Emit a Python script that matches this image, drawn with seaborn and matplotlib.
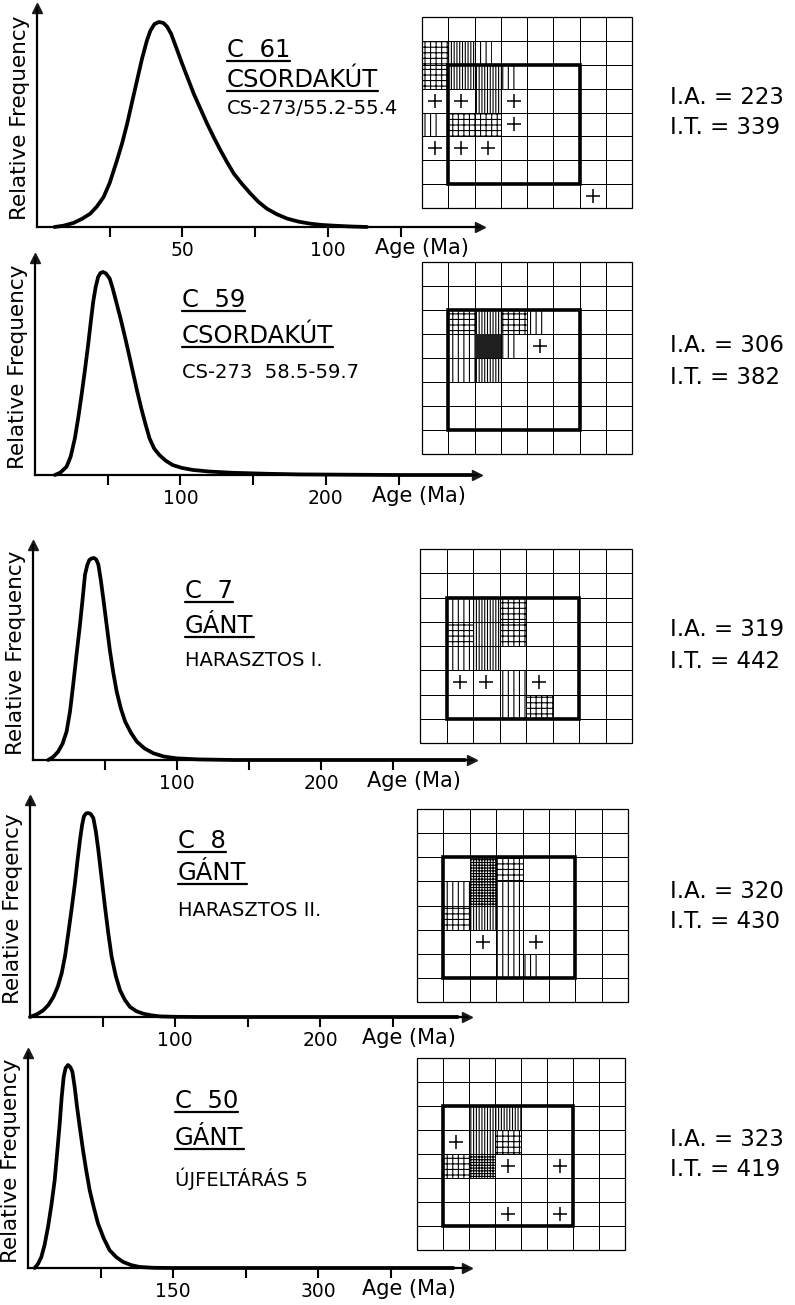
import numpy as np
import matplotlib.pyplot as plt
import seaborn as sns
from matplotlib.colors import ListedColormap
from matplotlib.patches import Rectangle

sns.set_theme(style='white')
plt.rcParams['font.family'] = ['DejaVu Sans']
plt.rcParams['hatch.linewidth'] = 0.8

W, H = 795, 1305

# --- age spectra (age in Ma, relative frequency, peak = 1) ---
age_c61 = [6.0, 9.0, 12.6, 15.5, 18.3, 20.6, 22.9, 25.0, 27.5, 29.3, 31.0, 32.7, 34.4, 36.1,
           37.8, 39.0, 40.4, 41.9, 43.4, 44.7, 46.1, 47.5, 49.9, 52.0, 53.9, 56.2, 58.5, 60.8,
           63.1, 65.4, 67.7, 70.5, 73.4, 76.2, 79.1, 82.5, 86.0, 90.0, 94.1, 98.0, 102.1, 107.0,
           113.5]
freq_c61 = [0.0, 0.006, 0.02, 0.04, 0.065, 0.10, 0.146, 0.215, 0.325, 0.41, 0.504, 0.61, 0.715,
            0.82, 0.91, 0.958, 0.99, 1.0, 0.996, 0.978, 0.943, 0.89, 0.797, 0.72, 0.65, 0.577,
            0.504, 0.437, 0.374, 0.315, 0.26, 0.21, 0.163, 0.122, 0.089, 0.062, 0.041, 0.026,
            0.016, 0.010, 0.0065, 0.003, 0.0]

age_c59 = [13.7, 17.5, 21.7, 24.5, 27.4, 29.7, 32.0, 34.3, 36.5, 38.3, 40.0, 41.7, 43.4, 45.0,
           46.8, 48.8, 51.4, 53.6, 55.9, 58.8, 61.6, 64.5, 67.3, 70.2, 73.1, 76.0, 78.8, 82.0,
           85.6, 90.0, 94.7, 101.0, 108.4, 120.0, 135.8, 160.0, 181.5, 250.0, 300.0]
freq_c59 = [0.0, 0.012, 0.041, 0.09, 0.18, 0.28, 0.393, 0.515, 0.639, 0.75, 0.852, 0.925, 0.975,
            0.995, 1.0, 0.993, 0.967, 0.915, 0.852, 0.772, 0.689, 0.598, 0.508, 0.415, 0.328,
            0.25, 0.18, 0.13, 0.098, 0.07, 0.049, 0.035, 0.025, 0.017, 0.011, 0.006, 0.003,
            0.0, 0.0]

age_c7 = [10.5, 14.0, 17.4, 20.5, 23.3, 25.7, 27.9, 30.2, 32.6, 34.5, 36.1, 37.7, 39.1, 40.7,
          42.3, 43.9, 45.4, 47.1, 48.8, 51.2, 53.5, 55.8, 58.1, 61.0, 64.0, 68.0, 72.1, 77.5,
          83.7, 91.0, 100.0, 115.0, 139.5, 300.0]
freq_c7 = [0.0, 0.015, 0.041, 0.08, 0.14, 0.24, 0.372, 0.52, 0.669, 0.8, 0.917, 0.965, 0.99,
           0.998, 1.0, 0.993, 0.967, 0.89, 0.80, 0.665, 0.537, 0.43, 0.339, 0.255, 0.19, 0.135,
           0.091, 0.057, 0.033, 0.017, 0.008, 0.003, 0.0, 0.0]

age_c8 = [0.0, 1.1, 5.0, 9.2, 12.8, 16.1, 19.2, 21.8, 24.2, 26.4, 28.8, 31.0, 32.8, 34.5, 35.9,
          37.2, 38.7, 40.2, 41.9, 43.7, 45.4, 47.1, 49.4, 51.7, 54.0, 56.3, 59.2, 62.1, 65.5,
          69.0, 73.5, 78.2, 84.0, 89.7, 100.0, 117.0, 295.0]
freq_c8 = [0.0, 0.003, 0.014, 0.033, 0.06, 0.098, 0.15, 0.213, 0.3, 0.41, 0.535, 0.656, 0.77,
           0.869, 0.94, 0.984, 0.998, 1.0, 0.995, 0.975, 0.91, 0.82, 0.68, 0.541, 0.41, 0.295,
           0.2, 0.131, 0.083, 0.049, 0.028, 0.016, 0.008, 0.003, 0.001, 0.0, 0.0]

age_c50 = [6.9, 10.3, 13.8, 17.2, 20.7, 24.2, 27.6, 30.2, 32.8, 34.8, 36.9, 38.9, 41.4, 43.7,
           45.9, 48.3, 50.7, 53.8, 56.9, 60.3, 63.8, 68.1, 72.4, 78.4, 84.5, 91.4, 98.3, 106.9,
           115.5, 130.0, 150.0, 440.0]
freq_c50 = [0.0, 0.02, 0.054, 0.115, 0.202, 0.31, 0.433, 0.57, 0.712, 0.84, 0.942, 0.985, 1.0,
            0.99, 0.967, 0.89, 0.794, 0.685, 0.58, 0.478, 0.383, 0.297, 0.219, 0.145, 0.087,
            0.053, 0.03, 0.014, 0.005, 0.001, 0.0, 0.0]

# tick values per panel
major_ticks = [[50, 100], [100, 200], [100, 200], [100, 200], [150, 300]]
minor_ticks = [[25, 75, 125], [50, 150, 250], [50, 150, 250], [50, 150, 250], [75, 225, 375]]

# labels
sample_ids = ['C  61', 'C  59', 'C  7', 'C  8', 'C  50']
localities = ['CSORDAKÚT', 'CSORDAKÚT', 'GÁNT', 'GÁNT', 'GÁNT']
sites = ['CS-273/55.2-55.4', 'CS-273  58.5-59.7', 'HARASZTOS I.', 'HARASZTOS II.', 'ÚJFELTÁRÁS 5']
ylabels = ['Relative Frequency', 'Relative Frequency', 'Relative Frequency',
           'Relative Freqency', 'Relative Frequency']
ia_values = [223, 306, 319, 320, 323]
it_values = [339, 382, 442, 430, 419]

# grid cell codes: 0 empty, 1 plus, 2 sparse vertical, 3 dense vertical,
# 4 cross-hatch, 5 dense cross-hatch, 6 dark, 7 partial sparse vertical
grid_c61 = [[0, 0, 0, 0, 0, 0, 0, 0],
            [4, 3, 7, 0, 0, 0, 0, 0],
            [4, 3, 3, 7, 0, 0, 0, 0],
            [1, 1, 3, 1, 0, 0, 0, 0],
            [7, 4, 4, 1, 0, 0, 0, 0],
            [1, 1, 1, 0, 0, 0, 0, 0],
            [0, 0, 0, 0, 0, 0, 0, 0],
            [0, 0, 0, 0, 0, 0, 1, 0]]
grid_c59 = [[0, 0, 0, 0, 0, 0, 0, 0],
            [0, 0, 0, 0, 0, 0, 0, 0],
            [0, 4, 3, 4, 7, 0, 0, 0],
            [0, 2, 6, 7, 1, 0, 0, 0],
            [0, 2, 3, 0, 0, 0, 0, 0],
            [0, 0, 0, 0, 0, 0, 0, 0],
            [0, 0, 0, 0, 0, 0, 0, 0],
            [0, 0, 0, 0, 0, 0, 0, 0]]
grid_c7 = [[0, 0, 0, 0, 0, 0, 0, 0],
           [0, 0, 0, 0, 0, 0, 0, 0],
           [0, 2, 3, 4, 0, 0, 0, 0],
           [0, 4, 3, 4, 0, 0, 0, 0],
           [0, 2, 3, 0, 0, 0, 0, 0],
           [0, 1, 1, 2, 1, 0, 0, 0],
           [0, 0, 0, 2, 4, 0, 0, 0],
           [0, 0, 0, 0, 0, 0, 0, 0]]
grid_c8 = [[0, 0, 0, 0, 0, 0, 0, 0],
           [0, 0, 0, 0, 0, 0, 0, 0],
           [0, 0, 5, 4, 0, 0, 0, 0],
           [0, 2, 5, 2, 0, 0, 0, 0],
           [0, 4, 3, 2, 0, 0, 0, 0],
           [0, 0, 1, 2, 1, 0, 0, 0],
           [0, 0, 0, 2, 7, 0, 0, 0],
           [0, 0, 0, 0, 0, 0, 0, 0]]
grid_c50 = [[0, 0, 0, 0, 0, 0, 0, 0],
            [0, 0, 0, 0, 0, 0, 0, 0],
            [0, 0, 3, 3, 0, 0, 0, 0],
            [0, 1, 3, 4, 0, 0, 0, 0],
            [0, 4, 5, 1, 0, 1, 0, 0],
            [0, 0, 0, 0, 0, 0, 0, 0],
            [0, 0, 0, 1, 0, 1, 0, 0],
            [0, 0, 0, 0, 0, 0, 0, 0]]

curves = [(age_c61, freq_c61), (age_c59, freq_c59), (age_c7, freq_c7),
          (age_c8, freq_c8), (age_c50, freq_c50)]
grids = [grid_c61, grid_c59, grid_c7, grid_c8, grid_c50]

# layout in pixels: axis x, baseline y, arrow top y, arrow right x, px per Ma, peak y
curve_boxes = [(37, 227, 8, 480, 2.908, 22),
               (35, 475, 258, 477, 1.454, 272),
               (33, 760, 545, 472, 1.44, 558),
               (30, 1017, 800, 467, 1.45, 813),
               (28, 1268, 1053, 467, 0.967, 1065)]
grid_boxes = [(422, 17, 632, 208), (422, 262, 632, 454), (420, 549, 632, 743),
              (417, 809, 628, 1002), (417, 1058, 625, 1250)]
title_pos = [(227, 50, 80, 108), (182, 300, 336, 372), (185, 591, 626, 661),
             (178, 841, 873, 911), (175, 1101, 1138, 1179)]
ia_pos = [(97, 128), (345, 377), (630, 661), (891, 921), (1140, 1170)]

fig = plt.figure(figsize=(W / 100, H / 100), dpi=100)
ov = fig.add_axes([0, 0, 1, 1])
ov.set_xlim(0, W)
ov.set_ylim(H, 0)
ov.axis('off')


def px_axes(x0, y0, x1, y1):
    return fig.add_axes([x0 / W, 1 - y1 / H, (x1 - x0) / W, (y1 - y0) / H])


underlined = []
for i, (age, freq) in enumerate(curves):
    left, base, top, right, ppm, peak = curve_boxes[i]
    ax = px_axes(left, top, right, base)
    ax.patch.set_alpha(0)
    sns.lineplot(x=age, y=freq, ax=ax, color='black', lw=2.7, estimator=None, sort=False)
    ax.lines[-1].set_clip_on(False)
    ax.lines[-1].set_solid_joinstyle('round')
    ax.set_xlim(0, (right - left) / ppm)
    ax.set_ylim(0, (base - top) / (base - peak))
    ax.spines['top'].set_visible(False)
    ax.spines['right'].set_visible(False)
    for s in ['left', 'bottom']:
        ax.spines[s].set_linewidth(1.6)
        ax.spines[s].set_color('black')
    ax.set_yticks([])
    ax.set_xticks(major_ticks[i])
    ax.set_xticklabels([str(t) for t in major_ticks[i]])
    ax.set_xticks(minor_ticks[i], minor=True)
    ax.tick_params(axis='x', which='both', direction='out', length=7, width=1.5,
                   color='black', bottom=True, labelsize=13.5, pad=3, labelcolor='black')
    ax.set_xlabel('')
    ax.set_ylabel('')
    ax.plot(1, 0, '>k', ms=7, transform=ax.transAxes, clip_on=False)
    ax.plot(0, 1, '^k', ms=7, transform=ax.transAxes, clip_on=False)

    ov.text(left - 17, (base + top) / 2, ylabels[i], rotation=90, ha='center', va='center',
            fontsize=15.5, color='black')
    ov.text(right - 105, base + 21, 'Age (Ma)', ha='left', va='center', fontsize=15,
            color='black')

    tx, y1, y2, y3 = title_pos[i]
    t1 = ov.text(tx, y1, sample_ids[i], ha='left', va='center', fontsize=17.5, color='black')
    t2 = ov.text(tx, y2, localities[i], ha='left', va='center', fontsize=17.5, color='black')
    ov.text(tx, y3, sites[i], ha='left', va='center', fontsize=14, color='black')
    underlined += [t1, t2]

    ya, yt = ia_pos[i]
    ov.text(670, ya, f'I.A. = {ia_values[i]}', ha='left', va='center', fontsize=16.5,
            color='black')
    ov.text(670, yt, f'I.T. = {it_values[i]}', ha='left', va='center', fontsize=16.5,
            color='black')

white = ListedColormap(['white'])
hatches = {2: '|||', 3: '||||||', 4: '+++', 5: '++++++', 7: '|||'}
for i, codes in enumerate(grids):
    x0, y0, x1, y1 = grid_boxes[i]
    gx = px_axes(x0, y0, x1, y1)
    arr = np.array(codes)
    sns.heatmap(arr, cmap=white, cbar=False, linewidths=0.6, linecolor='black',
                xticklabels=False, yticklabels=False, ax=gx)
    for r in range(arr.shape[0]):
        for c in range(arr.shape[1]):
            code = arr[r, c]
            if code in (2, 3, 4, 5):
                gx.add_patch(Rectangle((c, r), 1, 1, fill=False, hatch=hatches[code],
                                       lw=0, edgecolor='black'))
            elif code == 7:
                gx.add_patch(Rectangle((c, r), 0.65, 1, fill=False, hatch=hatches[code],
                                       lw=0, edgecolor='black'))
            elif code == 6:
                gx.add_patch(Rectangle((c, r), 1, 1, facecolor='0.12', lw=0))
    rows, cols = np.where(arr == 1)
    gx.scatter(cols + 0.5, rows + 0.5, marker='+', s=90, c='black', linewidths=1.1, zorder=4)
    gx.add_patch(Rectangle((1, 2), 5, 5, fill=False, lw=2.6, edgecolor='black', zorder=5))
    gx.add_patch(Rectangle((0, 0), 8, 8, fill=False, lw=0.9, edgecolor='black',
                           clip_on=False, zorder=5))

# underlines under sample id and locality
fig.canvas.draw()
inv = ov.transData.inverted()
for t in underlined:
    bb = t.get_window_extent()
    (ux0, uy), (ux1, _) = inv.transform([(bb.x0, bb.y0), (bb.x1, bb.y0)])
    ov.plot([ux0, ux1], [uy - 1, uy - 1], color='black', lw=1.6)

fig.savefig('out.png', dpi=100)
